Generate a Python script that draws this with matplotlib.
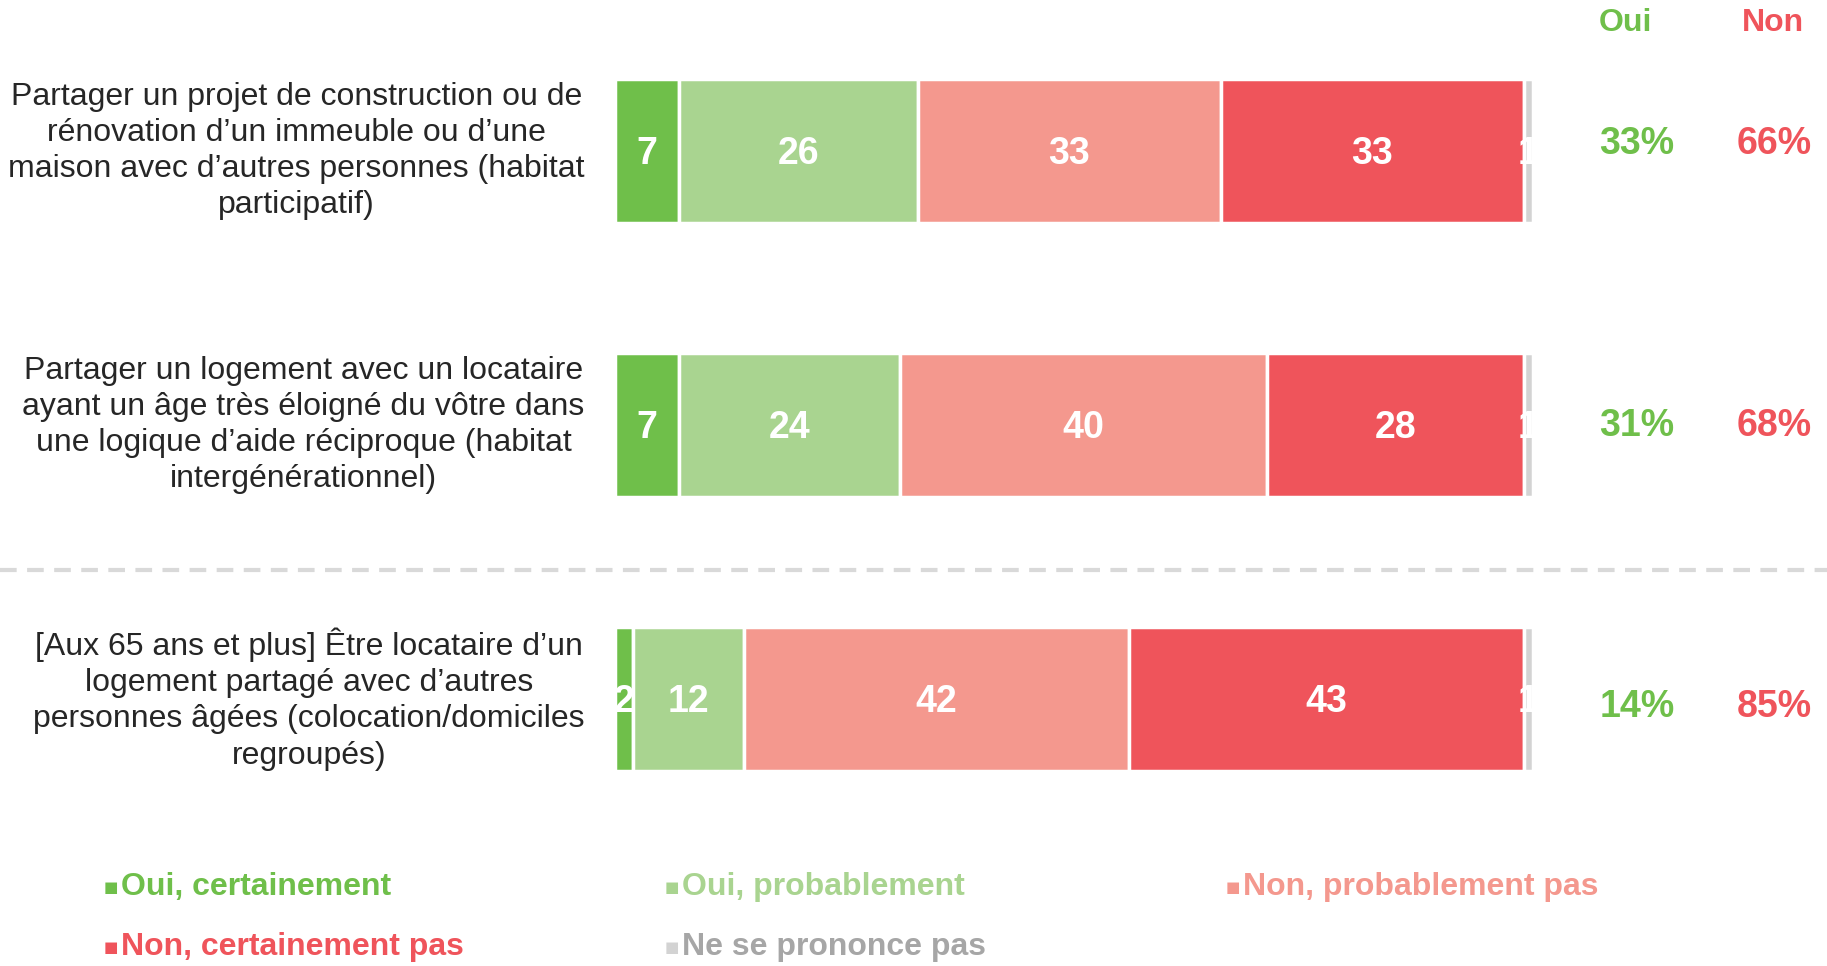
import numpy as np
import matplotlib
matplotlib.use("Agg")
import matplotlib.pyplot as plt

plt.rcParams['font.family'] = ['Liberation Sans', 'DejaVu Sans']

# data
labels = [
    "Partager un projet de construction ou de\nrénovation d’un immeuble ou d’une\nmaison avec d’autres personnes (habitat\nparticipatif)",
    "Partager un logement avec un locataire\nayant un âge très éloigné du vôtre dans\nune logique d’aide réciproque (habitat\nintergénérationnel)",
    "[Aux 65 ans et plus] Être locataire d’un\nlogement partagé avec d’autres\npersonnes âgées (colocation/domiciles\nregroupés)",
]
oui_cert = [7, 7, 2]
oui_prob = [26, 24, 12]
non_prob = [33, 40, 42]
non_cert = [33, 28, 43]
nsp = [1, 1, 1]
tot_oui = [33, 31, 14]
tot_non = [66, 68, 85]

series = [oui_cert, oui_prob, non_prob, non_cert, nsp]
names = ["Oui, certainement", "Oui, probablement", "Non, probablement pas",
         "Non, certainement pas", "Ne se prononce pas"]
colors = ["#6FBF4A", "#A9D490", "#F4988E", "#EF545B", "#D3D3D3"]
text_colors = ["#6FBF4A", "#A9D490", "#F4988E", "#EF545B", "#A6A6A6"]
GREEN = "#6FBF4A"
RED = "#EF545B"

W, H = 1827, 966
fig = plt.figure(figsize=(W / 100, H / 100), dpi=100)
ax = fig.add_axes([0, 0, 1, 1])

# pixel geometry -> data scale
x0_px, unit_px = 615, 9.18
row0_px, row_step = 151, 274
ax.set_xlim(-x0_px / unit_px, (W - x0_px) / unit_px)
ax.set_ylim((H - row0_px) / row_step, -row0_px / row_step)
ax.axis("off")

y = np.arange(len(labels))
left = np.zeros(len(labels))
for vals, col in zip(series, colors):
    vals = np.array(vals, dtype=float)
    ax.barh(y, vals, left=left, height=0.525, color=col,
            edgecolor="white", linewidth=2.5)
    for yi, v, l in zip(y, vals, left):
        ax.text(l + v / 2, yi + 0.01, f"{int(v)}", ha="center", va="center",
                color="white", fontsize=27, fontweight="bold", clip_on=False)
    left += vals

for yi, lab in zip(y, labels):
    ax.text(-3.3, yi, lab, ha="right", va="center", multialignment="center",
            fontsize=23, color="#262626", linespacing=1.27)

x_oui = (1637 - x0_px) / unit_px
x_non = (1774 - x0_px) / unit_px
pct_shift = [-0.025, 0.005, 0.03]
for yi, o, n, dy in zip(y, tot_oui, tot_non, pct_shift):
    ax.text(x_oui, yi + dy, f"{o}%", ha="center", va="center", color=GREEN,
            fontsize=27, fontweight="bold")
    ax.text(x_non, yi + dy, f"{n}%", ha="center", va="center", color=RED,
            fontsize=27, fontweight="bold")

y_head = (23 - row0_px) / row_step
ax.text((1625 - x0_px) / unit_px, y_head, "Oui", ha="center", va="center",
        color=GREEN, fontsize=23, fontweight="bold")
ax.text((1773 - x0_px) / unit_px, y_head, "Non", ha="center", va="center",
        color=RED, fontsize=23, fontweight="bold")

ax.axhline((570 - row0_px) / row_step, color="#D9D9D9", lw=3,
           linestyle=(0, (4, 2.5)))

# legend, laid out by hand (5 entries, 3 columns)
leg_x = [121, 682, 1243, 121, 682]
leg_y = [887, 887, 887, 947, 947]
for name, col, tc, lx, ly in zip(names, colors, text_colors, leg_x, leg_y):
    fig.text((lx - 17) / W, 1 - ly / H, "■", color=col, fontsize=11,
             ha="left", va="center", family="DejaVu Sans")
    fig.text(lx / W, 1 - ly / H, name, color=tc, fontsize=23,
             fontweight="bold", ha="left", va="center")

fig.savefig("out.png", dpi=100, facecolor="white")
